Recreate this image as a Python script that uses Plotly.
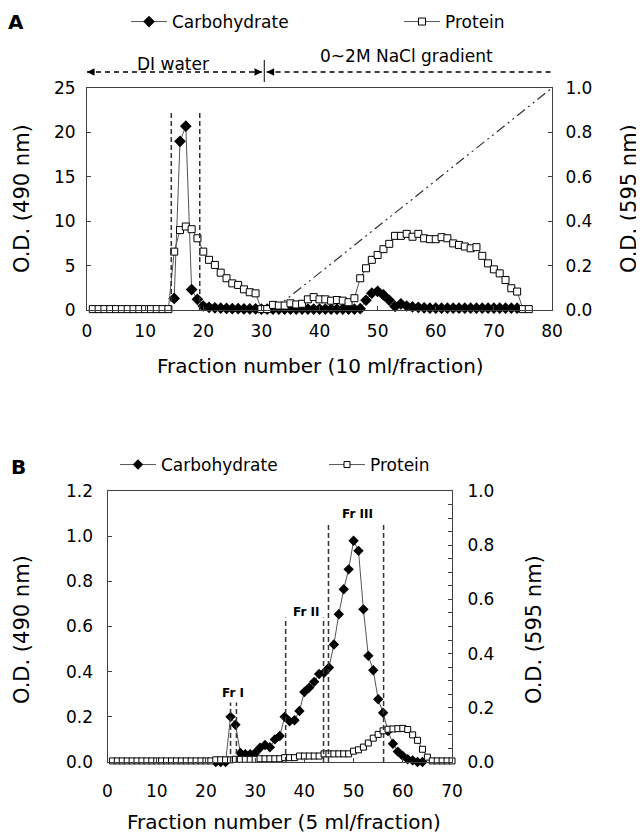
import plotly.graph_objects as go

# page body has an 8px margin: figure is sized and placed to compensate
OX, OY = 8, 8
W, H = 644 - OX, 837 - OY
FONT = "DejaVu Sans"

# ---------------- Panel A data ----------------
a_prot_frac = list(range(1, 77))
a_protein = [0.004] * 14 + [
    0.263, 0.36, 0.376, 0.364, 0.323, 0.263, 0.226, 0.203, 0.168, 0.143,
    0.12, 0.113, 0.093, 0.08, 0.075,
    0.004, 0.004, 0.023, 0.02, 0.02, 0.03, 0.025, 0.028, 0.048, 0.058,
    0.048, 0.048, 0.042, 0.045, 0.042, 0.035, 0.053, 0.143, 0.188, 0.226,
    0.248, 0.274, 0.298, 0.334, 0.334, 0.343, 0.33, 0.343, 0.323, 0.319,
    0.319, 0.328, 0.323, 0.30, 0.293, 0.286, 0.278, 0.283, 0.244, 0.21,
    0.183, 0.165, 0.135, 0.098, 0.083, 0.004, 0.004]
a_carb_frac = list(range(15, 75))
a_carb = [1.3, 19.0, 20.7, 2.3, 1.2, 0.45, 0.3, 0.25, 0.2, 0.18,
          0.15, 0.15, 0.12, 0.12, 0.12] + [0.1] * 17 + [
          0.15, 1.1, 1.9, 2.1, 1.7, 1.1, 0.4, 0.7, 0.45, 0.35, 0.3, 0.25] + [0.2] * 16
a_gradient_x = [32, 80]
a_gradient_y = [0.0, 1.0]
a_cut_x = [14.5, 19.4]
a_cut_top = 22.4
a_regions = ["DI water", "0~2M NaCl gradient"]
a_region_start = [0.0, 30.9]
a_region_end = [30.1, 80.6]
a_region_label_x = [14.8, 54.9]
a_divider_x = 30.5

# ---------------- Panel B data ----------------
b_prot_frac = list(range(1, 71))
b_protein = ([0.004] * 21 + [0.008] * 4 + [0.01] * 5 + [0.012] * 5 + [0.016] * 3
             + [0.022] * 5 + [0.03] * 6 +
             [0.04, 0.045, 0.055, 0.07, 0.088, 0.102, 0.115, 0.121, 0.122, 0.123,
              0.124, 0.12, 0.10, 0.08, 0.047, 0.018] + [0.004] * 5)
b_carb_frac = list(range(22, 65))
b_carb = [0.0, 0.0, 0.0, 0.20, 0.165, 0.04, 0.035, 0.035, 0.04, 0.063,
          0.075, 0.065, 0.10, 0.115, 0.20, 0.18, 0.185, 0.226, 0.31, 0.33,
          0.355, 0.39, 0.395, 0.418, 0.52, 0.654, 0.765, 0.853, 0.98, 0.935,
          0.676, 0.47, 0.406, 0.278, 0.218, 0.137, 0.081, 0.046, 0.027, 0.012,
          0.007, 0.0, 0.0]
b_cut_x = [25.0, 26.2, 36.2, 43.9, 44.9, 56.1]
b_cut_top = [0.263, 0.263, 0.64, 0.64, 1.06, 1.06]
b_fr_labels = ["Fr I", "Fr II", "Fr III"]
b_fr_x = [25.6, 40.3, 50.7]
b_fr_y = [0.305, 0.665, 1.098]


def px(x):
    return (x - OX) / W


def py(y):
    return 1 - (y - OY) / H


LINE = "#404040"

fig = go.Figure()

# Panel A traces
fig.add_trace(go.Scatter(
    x=a_gradient_x, y=a_gradient_y, xaxis="x", yaxis="y2", mode="lines",
    line=dict(color="#333333", width=1.2, dash="10px,4px,2px,4px,2px,4px"),
    showlegend=False, hoverinfo="skip"))
fig.add_trace(go.Scatter(
    x=a_carb_frac, y=a_carb, xaxis="x", yaxis="y", mode="lines+markers",
    name="Carbohydrate", legend="legend", cliponaxis=False,
    line=dict(color="#555555", width=1),
    marker=dict(symbol="diamond", size=9, color="black")))
fig.add_trace(go.Scatter(
    x=a_prot_frac, y=a_protein, xaxis="x", yaxis="y2", mode="lines+markers",
    name="Protein", legend="legend2", cliponaxis=False,
    line=dict(color="#555555", width=1),
    marker=dict(symbol="square", size=7, color="white",
                line=dict(color="black", width=1))))

# Panel B traces
fig.add_trace(go.Scatter(
    x=b_carb_frac, y=b_carb, xaxis="x2", yaxis="y3", mode="lines+markers",
    name="Carbohydrate", legend="legend3", cliponaxis=False,
    line=dict(color="#555555", width=1),
    marker=dict(symbol="diamond", size=8, color="black")))
fig.add_trace(go.Scatter(
    x=b_prot_frac, y=b_protein, xaxis="x2", yaxis="y4", mode="lines+markers",
    name="Protein", legend="legend4", cliponaxis=False,
    line=dict(color="#555555", width=1),
    marker=dict(symbol="square", size=6, color="white",
                line=dict(color="black", width=1))))

shapes = []
for cx in a_cut_x:
    shapes.append(dict(type="line", xref="x", yref="y", x0=cx, x1=cx, y0=0, y1=a_cut_top,
                       line=dict(color="#333333", width=1.5, dash="5px,3px")))
for cx, ct in zip(b_cut_x, b_cut_top):
    shapes.append(dict(type="line", xref="x2", yref="y3", x0=cx, x1=cx, y0=0, y1=ct,
                       line=dict(color="#333333", width=1.5, dash="5px,3px")))
arrow_y = py(72)
for s, e in zip(a_region_start, a_region_end):
    shapes.append(dict(type="line", xref="x", yref="paper", x0=s, x1=e, y0=arrow_y, y1=arrow_y,
                       line=dict(color="black", width=1.5, dash="5px,4px")))
shapes.append(dict(type="line", xref="x", yref="paper", x0=a_divider_x, x1=a_divider_x,
                   y0=py(60), y1=py(82), line=dict(color="black", width=1)))

annotations = []
for s, e in zip(a_region_start, a_region_end):
    annotations.append(dict(x=s, y=arrow_y, xref="x", yref="paper", text="", showarrow=True,
                            ax=9, ay=0, arrowhead=2, arrowsize=1, arrowwidth=1.5,
                            arrowcolor="black", standoff=0))
    annotations.append(dict(x=e, y=arrow_y, xref="x", yref="paper", text="", showarrow=True,
                            ax=-9, ay=0, arrowhead=2, arrowsize=1, arrowwidth=1.5,
                            arrowcolor="black", standoff=0))
for lbl, lx, yy in zip(a_regions, a_region_label_x, [64, 56.5]):
    annotations.append(dict(x=lx, y=py(yy), xref="x", yref="paper", text=lbl, showarrow=False,
                            xanchor="center", yanchor="middle",
                            font=dict(family=FONT, size=17, color="black")))
for lbl, lx, ly in zip(b_fr_labels, b_fr_x, b_fr_y):
    annotations.append(dict(x=lx, y=ly, xref="x2", yref="y3", text="<b>%s</b>" % lbl,
                            showarrow=False, xanchor="center", yanchor="middle",
                            font=dict(family=FONT, size=12, color="black")))


def label(xp, yp, text, size, angle=0):
    return dict(x=px(xp), y=py(yp), xref="paper", yref="paper", text=text, textangle=angle,
                showarrow=False, xanchor="center", yanchor="middle",
                font=dict(family=FONT, size=size, color="black"))


annotations += [
    label(16, 22, "<b>A</b>", 20),
    label(18, 467, "<b>B</b>", 20),
    label(22, 199, "O.D. (490 nm)", 21, -90),
    label(629, 199, "O.D. (595 nm)", 21, -90),
    label(320, 366, "Fraction number (10 ml/fraction)", 20),
    label(22, 630, "O.D. (490 nm)", 21, -90),
    label(534, 630, "O.D. (595 nm)", 21, -90),
    label(284, 822, "Fraction number (5 ml/fraction)", 20),
]

tick_font = dict(family=FONT, size=17, color="black")
axis_common = dict(showline=True, linecolor=LINE, linewidth=1, showgrid=False, zeroline=False,
                   ticks="inside", ticklen=4, tickcolor=LINE, tickfont=tick_font,
                   automargin=False)


def legend_at(xpx, ypx):
    return dict(x=px(xpx), y=py(ypx), xanchor="left", yanchor="middle", orientation="h",
                bgcolor="rgba(0,0,0,0)", borderwidth=0, itemwidth=36,
                font=dict(family=FONT, size=17, color="black"), tracegroupgap=0)


fig.update_layout(
    width=W, height=H, autosize=False,
    margin=dict(l=0, r=0, t=0, b=0, pad=0, autoexpand=False),
    paper_bgcolor="white", plot_bgcolor="white",
    shapes=shapes, annotations=annotations,
    xaxis=dict(domain=[px(87), px(552)], range=[0, 80], dtick=10, anchor="y", mirror=True,
               ticklabelstandoff=6, **axis_common),
    yaxis=dict(domain=[py(310), py(88)], range=[0, 25], dtick=5, anchor="x",
               ticklabelstandoff=7, **axis_common),
    yaxis2=dict(range=[0, 1.0], dtick=0.2, tickformat=".1f", overlaying="y", side="right",
                anchor="x", ticklabelstandoff=9, **axis_common),
    xaxis2=dict(domain=[px(107.5), px(452)], range=[0, 70], dtick=10, anchor="y3", mirror=True,
                ticklabelstandoff=14, **axis_common),
    yaxis3=dict(domain=[py(762), py(491)], range=[0, 1.2], dtick=0.2, tickformat=".1f",
                anchor="x2", ticklabelstandoff=10, **axis_common),
    yaxis4=dict(range=[0, 1.0], dtick=0.2, tickformat=".1f", overlaying="y3", side="right",
                anchor="x2", ticklabelstandoff=11,
                minor=dict(dtick=0.05, ticks="inside", ticklen=4, tickcolor=LINE),
                **axis_common),
    legend=legend_at(126, 22),
    legend2=legend_at(399, 22),
    legend3=legend_at(115, 465),
    legend4=legend_at(324, 465),
)

fig.write_html("out.html")
